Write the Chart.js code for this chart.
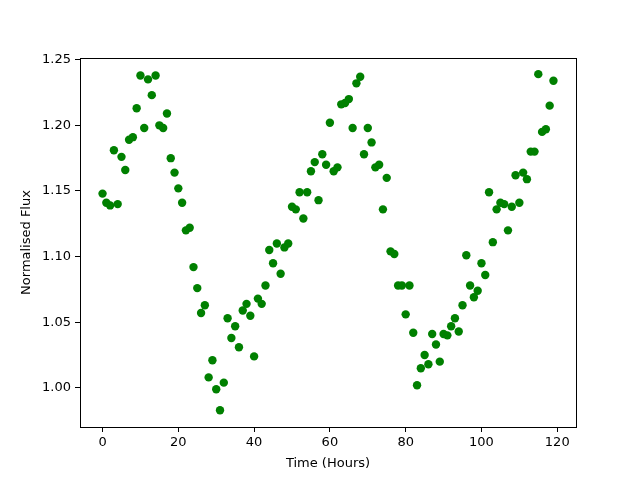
<!DOCTYPE html>
<html>
<head>
<meta charset="utf-8">
<script src="https://cdn.jsdelivr.net/npm/chart.js@4/dist/chart.umd.min.js"></script>
<style>
  html, body { margin: 0; padding: 0; background: #fff; }
  canvas { display: block; }
</style>
</head>
<body>
<canvas id="myChart" width="640" height="480"></canvas>
<script>
  'use strict'

  // Data: time in hours, normalised flux
  var hours = []
  for (var h = 0; h < 120; h++) hours.push(h)

  var flux = [
    1.148, 1.141, 1.139, 1.181, 1.140, 1.176, 1.166, 1.189, 1.191, 1.213,
    1.238, 1.198, 1.235, 1.223, 1.238, 1.200, 1.198, 1.209, 1.175, 1.164,
    1.152, 1.141, 1.120, 1.122, 1.092, 1.076, 1.057, 1.063, 1.008, 1.021,
    0.999, 0.983, 1.004, 1.053, 1.038, 1.047, 1.031, 1.059, 1.064, 1.055,
    1.024, 1.068, 1.064, 1.078, 1.105, 1.095, 1.110, 1.087, 1.107, 1.110,
    1.138, 1.136, 1.149, 1.129, 1.149, 1.165, 1.172, 1.143, 1.178, 1.170,
    1.202, 1.165, 1.168, 1.216, 1.217, 1.220, 1.198, 1.232, 1.237, 1.178,
    1.198, 1.187, 1.168, 1.170, 1.136, 1.160, 1.104, 1.102, 1.078, 1.078,
    1.056, 1.078, 1.042, 1.002, 1.015, 1.025, 1.018, 1.041, 1.033, 1.020,
    1.041, 1.040, 1.047, 1.053, 1.043, 1.063, 1.101, 1.078, 1.069, 1.074,
    1.095, 1.086, 1.149, 1.111, 1.136, 1.141, 1.140, 1.120, 1.138, 1.162,
    1.141, 1.164, 1.159, 1.180, 1.180, 1.239, 1.195, 1.197, 1.215, 1.234
  ]

  var points = hours.map(function (x, i) { return { x: x, y: flux[i] } })

  var font = { family: 'DejaVu Sans', size: 13 }

  // top and right spines
  var frame = {
    id: 'frame',
    afterDraw: function (chart) {
      var a = chart.chartArea
      var c = chart.ctx
      c.save()
      c.strokeStyle = '#000'
      c.lineWidth = 1
      c.strokeRect(a.left + 0.5, a.top + 0.5, a.right - a.left, a.bottom - a.top)
      c.restore()
    }
  }

  var ctx = document.getElementById('myChart')
  // eslint-disable-next-line no-unused-vars
  var myChart = new Chart(ctx, {
    type: 'scatter',
    data: {
      datasets: [{
        data: points,
        backgroundColor: '#008000',
        borderWidth: 0,
        pointRadius: 4.2,
        pointHoverRadius: 4.2
      }]
    },
    options: {
      responsive: false,
      animation: false,
      layout: { padding: { left: 0, top: 58, right: 64, bottom: 0 } },
      plugins: { legend: { display: false }, tooltip: { enabled: false } },
      scales: {
        x: {
          type: 'linear',
          min: -5.95,
          max: 124.95,
          afterFit: function (scale) { scale.height = 53 },
          ticks: { stepSize: 20, includeBounds: false, color: '#000', font: font, padding: 3, maxRotation: 0 },
          grid: { drawOnChartArea: false, drawTicks: true, tickLength: 5, color: '#000' },
          border: { display: true, color: '#000' },
          title: { display: true, text: 'Time (Hours)', color: '#000', font: font, padding: { top: 0, bottom: 9 } }
        },
        y: {
          type: 'linear',
          min: 0.9702,
          max: 1.2513,
          afterFit: function (scale) { scale.width = 80 },
          ticks: {
            stepSize: 0.05,
            includeBounds: false,
            color: '#000',
            font: font,
            padding: 4,
            callback: function (v) { return v.toFixed(2) }
          },
          grid: { drawOnChartArea: false, drawTicks: true, tickLength: 5, color: '#000' },
          border: { display: true, color: '#000' },
          title: { display: true, text: 'Normalised Flux', color: '#000', font: font, padding: { top: 19, bottom: 0 } }
        }
      }
    },
    plugins: [frame]
  })
</script>
</body>
</html>
